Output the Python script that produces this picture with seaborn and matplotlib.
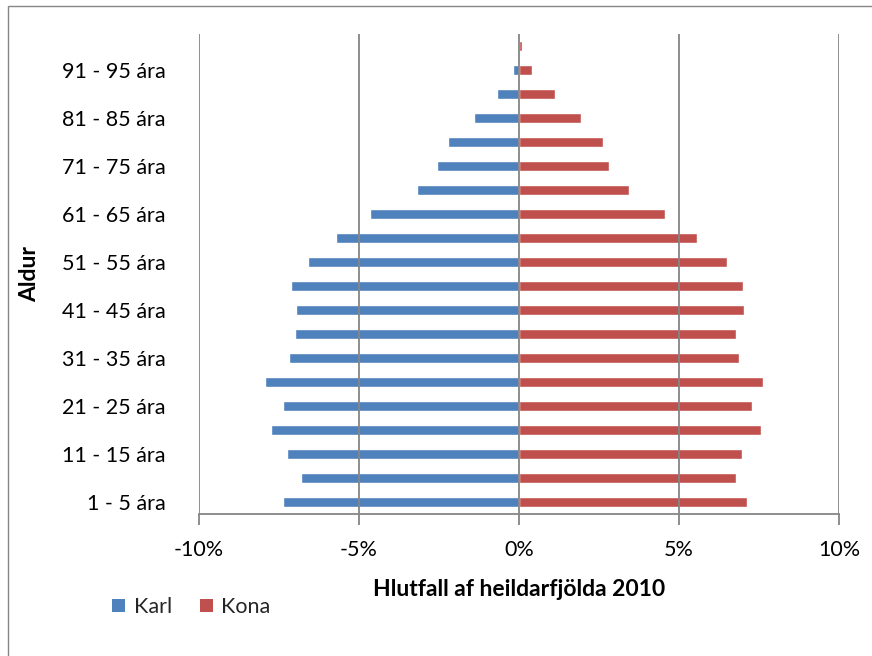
import matplotlib
matplotlib.use("Agg")
import matplotlib.pyplot as plt
from matplotlib.patches import Rectangle, Patch
from matplotlib.ticker import PercentFormatter
import seaborn as sns
import pandas as pd

# ── Gögn (lesin af myndinni, % af heildarfjölda) ─────────────────────────
AGES = ["1 - 5 ára", "6 - 10 ára", "11 - 15 ára", "16 - 20 ára", "21 - 25 ára",
        "26 - 30 ára", "31 - 35 ára", "36 - 40 ára", "41 - 45 ára", "46 - 50 ára",
        "51 - 55 ára", "56 - 60 ára", "61 - 65 ára", "66 - 70 ára", "71 - 75 ára",
        "76 - 80 ára", "81 - 85 ára", "86 - 90 ára", "91 - 95 ára", "96 - 100 ára"]
KARL = [7.39, 6.81, 7.26, 7.74, 7.39, 7.95, 7.18, 6.99, 6.96, 7.13,
        6.59, 5.72, 4.65, 3.19, 2.55, 2.23, 1.41, 0.69, 0.19, 0.02]
KONA = [7.12, 6.78, 6.97, 7.55, 7.27, 7.62, 6.86, 6.78, 7.02, 7.01,
        6.51, 5.56, 4.56, 3.43, 2.82, 2.64, 1.95, 1.13, 0.40, 0.09]
SEXES = ["Karl", "Kona"]
COLORS = {"Karl": "#4F81BD", "Kona": "#C0504D"}
XTICKS = [-10, -5, 0, 5, 10]

df = pd.DataFrame({
    "age": AGES * 2,
    "sex": ["Karl"] * len(AGES) + ["Kona"] * len(AGES),
    "value": [-v for v in KARL] + KONA,
})

sns.set_theme(style="white")
plt.rcParams["font.family"] = ["Lato", "DejaVu Sans"]
plt.rcParams["axes.unicode_minus"] = False
GRID = "#868686"

fig = plt.figure(figsize=(8.72, 6.56), dpi=100)
W, H = 872, 656
ax = fig.add_axes([199 / W, 1 - 514 / H, 640 / W, 480 / H])

# ramminn utan um myndina
fig.patches.append(Rectangle((8 / W, -0.1), 1.2, 1 - 6 / H + 0.1,
                             transform=fig.transFigure, fill=False,
                             edgecolor="#868686", lw=1.0))

sns.barplot(data=df, y="age", x="value", hue="sex", order=AGES[::-1],
            hue_order=SEXES, palette=COLORS, dodge=False, width=0.42,
            orient="h", legend=False, ax=ax, saturation=1)

ax.set_xlim(-10, 10)
ax.set_ylim(len(AGES) - 0.5, -0.5)
ax.set_xticks(XTICKS)
ax.xaxis.set_major_formatter(PercentFormatter(decimals=0))
for x in XTICKS:
    ax.axvline(x, color=GRID, lw=1.3, zorder=5)

# aðeins annar hver aldurshópur merktur
labels = [a if i % 2 == 0 else "" for i, a in enumerate(AGES)][::-1]
ax.set_yticks(range(len(AGES)))
ax.set_yticklabels(labels)

for s in ["top", "right", "left"]:
    ax.spines[s].set_visible(False)
ax.spines["bottom"].set_color(GRID)
ax.spines["bottom"].set_linewidth(1.3)
ax.spines["bottom"].set_zorder(6)
ax.tick_params(axis="x", length=8, width=1.3, color=GRID, direction="out",
               pad=11, labelsize=15.5, labelcolor="black", bottom=True)
ax.tick_params(axis="y", length=0, pad=24, labelsize=15.5, labelcolor="black")

ax.set_xlabel("Hlutfall af heildarfjölda 2010", fontsize=16.5,
              fontweight="bold", color="black", va="center")
ax.xaxis.set_label_coords(0.5, (514 - 589) / 480)
ax.set_ylabel("Aldur", fontsize=16.5, fontweight="bold", color="black",
              va="center")
ax.yaxis.set_label_coords((30 - 199) / 640, 0.5)

handles = [Patch(facecolor=COLORS[s], edgecolor="none", label=s) for s in SEXES]
fig.legend(handles=handles, loc="center left",
           bbox_to_anchor=(112 / W, 1 - 607 / H), ncol=2, frameon=False,
           fontsize=15.5, handlelength=0.6, handleheight=0.6, handletextpad=0.4,
           columnspacing=1.3, borderpad=0, borderaxespad=0)

fig.savefig("out.png", dpi=100)
